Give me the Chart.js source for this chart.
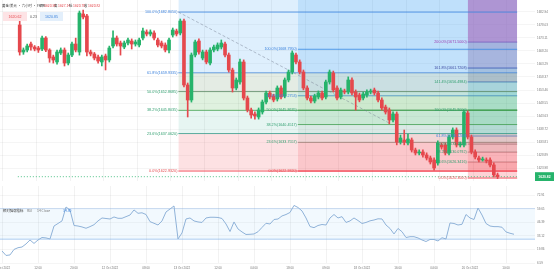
<!DOCTYPE html>
<html>
<head>
<meta charset="utf-8">
<script src="https://cdn.jsdelivr.net/npm/chart.js@4.4.1/dist/chart.umd.min.js"></script>
<style>
  html, body { margin: 0; padding: 0; background: #fff; }
  #wrap { position: relative; width: 554px; height: 275px; overflow: hidden; }
  #main { position: absolute; left: 0; top: 0; }
  #rsi { position: absolute; left: 0; top: 183px; }
</style>
</head>
<body>
<div id="wrap">
  <canvas id="main" width="554" height="181"></canvas>
  <canvas id="rsi" width="554" height="92"></canvas>
</div>
<script>
// ---- data ----
const opens = [1677.94,1667.77,1668.52,1670.78,1669.65,1669.28,1668.90,1673.04,1668.52,1665.89,
  1664.01,1667.40,1668.52,1663.63,1666.64,1670.78,1667.77,1682.08,1681.33,1667.77,
  1667.02,1665.89,1664.01,1666.27,1664.76,1670.03,1673.04,1671.16,1669.65,1671.16,
  1671.91,1670.78,1670.41,1673.04,1675.30,1674.55,1674.93,1672.29,1671.16,1670.41,
  1668.52,1674.17,1675.68,1674.93,1679.44,1655.35,1649.70,1666.64,1671.91,1665.51,
  1667.77,1663.63,1668.52,1668.90,1669.65,1670.78,1666.64,1660.99,1654.22,1656.48,
  1664.01,1650.45,1645.93,1644.43,1643.30,1645.18,1648.94,1652.34,1651.21,1650.08,
  1654.22,1651.21,1657.23,1660.24,1666.64,1664.01,1660.24,1654.22,1650.45,1649.32,
  1650.83,1652.34,1650.83,1656.48,1659.87,1654.22,1650.83,1653.09,1652.71,1657.23,
  1652.71,1651.58,1650.45,1651.58,1652.71,1653.46,1652.34,1649.70,1647.06,1645.93,
  1642.17,1644.43,1633.89,1634.64,1633.51,1634.64,1630.87,1629.75,1630.12,1628.99,
  1627.86,1627.11,1625.98,1632.76,1632.76,1629.75,1635.77,1638.40,1632.76,1632.76,
  1644.81,1635.77,1630.12,1627.86,1627.11,1627.11,1627.11,1625.23,1621.46];
const closes = [1667.77,1668.52,1670.03,1669.65,1668.90,1668.52,1673.04,1668.52,1665.51,1664.76,
  1667.77,1668.52,1663.63,1666.64,1670.78,1668.52,1682.46,1680.95,1667.77,1667.02,
  1665.51,1664.38,1665.89,1664.76,1669.28,1673.04,1670.78,1670.03,1671.16,1672.29,
  1670.78,1671.54,1672.29,1675.68,1674.55,1675.30,1673.04,1670.41,1670.03,1668.52,
  1672.29,1676.05,1674.55,1679.44,1655.35,1649.70,1666.64,1671.54,1667.77,1667.77,
  1664.01,1668.52,1669.65,1670.41,1671.16,1666.64,1660.99,1654.22,1657.23,1664.01,
  1650.45,1645.93,1644.05,1643.68,1645.93,1648.94,1652.34,1650.83,1649.70,1654.22,
  1650.83,1657.23,1660.24,1667.40,1664.01,1660.24,1654.22,1650.45,1649.32,1651.21,
  1652.34,1650.45,1656.48,1660.24,1653.46,1650.45,1653.46,1652.71,1657.23,1652.34,
  1650.83,1649.70,1651.96,1652.71,1653.09,1652.34,1649.70,1646.69,1645.18,1642.17,
  1644.43,1633.89,1635.39,1633.89,1635.02,1630.87,1629.75,1630.12,1628.99,1627.86,
  1626.36,1624.10,1633.51,1632.00,1629.75,1635.77,1638.40,1632.76,1633.13,1645.18,
  1635.77,1630.12,1628.24,1627.11,1627.49,1626.73,1625.23,1621.46,1620.82];
const highs = [1679.4,1669.3,1670.8,1671.5,1670.2,1669.9,1673.8,1673.6,1669.0,1666.6,
  1668.5,1669.3,1669.3,1667.4,1671.5,1673.0,1683.2,1683.6,1682.0,1668.5,
  1667.6,1666.6,1666.6,1667.0,1670.0,1675.7,1673.8,1671.9,1671.9,1673.0,
  1672.7,1672.3,1673.0,1676.8,1676.1,1676.1,1675.7,1673.0,1671.9,1671.2,
  1673.0,1676.8,1676.4,1680.2,1680.2,1656.1,1667.4,1672.3,1672.7,1668.5,
  1668.5,1669.3,1670.4,1671.2,1672.3,1671.5,1667.4,1661.7,1658.0,1665.1,
  1664.8,1651.2,1646.7,1645.2,1646.7,1649.7,1653.1,1653.1,1651.9,1655.0,
  1655.0,1658.0,1661.0,1668.2,1667.4,1664.8,1661.0,1655.0,1651.2,1651.9,
  1653.1,1653.1,1657.2,1661.0,1660.6,1655.0,1654.2,1653.8,1658.4,1658.0,
  1653.5,1652.3,1652.7,1653.5,1653.8,1654.2,1653.1,1650.5,1647.8,1646.7,
  1645.2,1645.2,1636.5,1638.4,1636.9,1635.4,1631.6,1630.9,1630.9,1629.8,
  1628.6,1627.9,1634.3,1633.5,1633.5,1636.5,1639.2,1639.2,1633.9,1646.0,
  1645.6,1636.5,1630.9,1628.6,1628.2,1627.9,1627.9,1626.0,1622.2];
const lows = [1666.6,1666.9,1667.8,1668.5,1668.2,1667.6,1668.3,1667.9,1663.9,1663.6,
  1663.2,1666.8,1662.5,1662.9,1666.0,1667.8,1666.6,1680.2,1666.3,1666.3,
  1664.8,1663.6,1662.5,1661.0,1664.0,1669.3,1670.0,1666.6,1669.0,1670.4,
  1668.9,1670.0,1669.7,1672.3,1673.8,1673.8,1672.3,1669.7,1669.3,1667.8,
  1667.4,1673.4,1673.8,1674.2,1654.6,1643.3,1648.9,1665.9,1667.0,1664.8,
  1663.3,1662.9,1667.8,1668.2,1668.9,1665.9,1660.2,1652.7,1653.5,1655.7,
  1649.7,1645.2,1642.9,1642.5,1642.5,1644.4,1648.2,1650.1,1649.0,1649.3,
  1650.1,1650.5,1656.5,1659.5,1663.3,1659.5,1653.5,1649.7,1648.6,1648.6,
  1650.1,1649.7,1650.1,1655.7,1652.7,1649.7,1650.1,1652.0,1652.0,1651.6,
  1645.9,1649.0,1649.7,1650.8,1652.0,1651.6,1649.0,1645.9,1644.4,1640.7,
  1641.4,1632.8,1633.1,1632.8,1632.8,1630.1,1629.0,1629.0,1628.2,1627.1,
  1625.6,1623.3,1625.2,1631.2,1629.0,1629.0,1635.0,1632.0,1632.0,1632.0,
  1635.0,1629.4,1627.5,1626.4,1626.7,1626.0,1624.5,1620.7,1620.1];
const rsiValues = [18.4,14.0,14.5,19.9,21.6,22.3,25.3,29.2,25.8,29.2,
  31.6,31.2,30.2,42.9,45.4,47.9,61.6,58.6,43.4,42.9,
  42.0,40.7,42.3,44.2,47.9,50.8,50.3,49.8,51.8,50.5,
  50.5,52.1,53.7,58.7,55.4,55.9,54.2,47.2,45.6,43.9,
  47.9,56.7,59.6,62.6,30.2,36.1,49.8,50.8,47.9,46.9,
  46.4,50.8,51.5,51.5,51.3,50.3,44.9,37.5,46.9,40.0,
  37.1,34.6,34.8,35.1,37.3,41.5,45.6,44.9,49.3,49.8,
  52.8,54.2,56.2,63.1,61.1,57.7,50.8,42.4,41.3,43.4,
  44.4,43.9,50.8,54.2,50.8,52.1,46.4,47.9,50.8,48.3,
  45.4,46.4,48.0,48.8,50.0,49.8,43.9,40.5,35.1,40.5,
  37.3,31.6,32.4,32.4,31.2,29.2,27.7,29.7,29.7,28.2,
  31.4,30.2,45.9,45.4,43.9,44.6,54.2,50.8,49.3,60.6,
  53.7,45.4,42.9,42.3,42.3,41.7,37.1,35.8,34.8];

const xTickIdx  = [0, 9, 18, 27, 36, 45, 54, 63, 72, 81, 90, 99, 108, 117, 126];
const xTickText = ['11 Oct 2022', '12:00', '20:00', '12 Oct 2022', '08:00', '13 Oct 2022', '12:00', '04:00',
                   '18:00', '09:00', '18 Oct 2022', '16:00', '04:00', '20 Oct 2022', '10:00'];
const priceTicks = [1682.94, 1678.03, 1673.11, 1668.20, 1663.29, 1658.37, 1653.46, 1648.55,
                    1643.63, 1638.72, 1633.81, 1628.89, 1623.98];
const rsiTicks = [6.59, 19.86, 33.12, 46.39, 59.65, 72.91];
const rsiBand = [30, 60];

// fibonacci retracements: anchor candle, ratios, prices
const fibAStart = 42.5;
const fibALevels = [0, 0.236, 0.382, 0.5, 0.618, 1];
const fibAPrices = [1622.9320, 1637.0620, 1645.8035, 1652.8685, 1659.9335, 1682.8050];
const fibBStart = 74.5;
const fibBLevels = [0, 0.236, 0.382, 0.5, 0.618, 1];
const fibBPrices = [1622.9320, 1633.7557, 1640.4517, 1645.8635, 1651.2753, 1668.7950];
const fibCStart = 120;
const fibCLevels = [0, 0.236, 0.382, 0.5, 0.618, 1, 1.414, 1.618, 2];
const fibCPrices = [1620.3000, 1626.3416, 1630.0792, 1633.1000, 1636.1208, 1645.9000, 1656.4984, 1661.7208, 1671.5000];
const trendX = [42.5, 99];
const trendY = [1682.805, 1641.0];

const lastPrice = 1620.82;

// ---- styles ----
const UP = '#26b36b', DOWN = '#e5484d';
const X_MIN = -0.5, X_MAX = 133.25;
const FONT = '"Liberation Sans", Arial, sans-serif';

const fibStyles = {
  A: {
    zones: ['rgba(242,54,69,0.15)', 'rgba(8,153,129,0.10)', 'rgba(76,175,80,0.18)',
            'rgba(120,160,120,0.20)', 'rgba(33,150,243,0.15)', 'rgba(33,150,243,0.15)'],
    lines: ['rgba(242,54,69,0.8)', 'rgba(8,153,129,0.7)', 'rgba(67,160,71,0.8)',
            'rgba(90,130,100,0.8)', 'rgba(60,130,220,0.8)', 'rgba(60,130,220,0.8)'],
    text: ['#e5484d', '#2f9e6e', '#2f9e6e', '#2f9e6e', '#3c82dc', '#3c82dc']
  },
  B: {
    zones: ['rgba(242,54,69,0.15)', 'rgba(120,130,120,0.10)', 'rgba(76,175,80,0.18)',
            'rgba(76,175,80,0.12)', 'rgba(33,150,243,0.15)', 'rgba(33,150,243,0.17)'],
    lines: ['rgba(242,54,69,0.8)', 'rgba(100,130,110,0.7)', 'rgba(67,160,71,0.8)',
            'rgba(67,140,90,0.8)', 'rgba(60,130,220,0.8)', 'rgba(60,130,220,0.8)'],
    text: ['#e5484d', '#2f9e6e', '#2f9e6e', '#2f9e6e', '#3c82dc', '#3c82dc']
  },
  C: {
    zones: ['rgba(242,54,69,0.22)', 'rgba(242,54,69,0.14)', 'rgba(150,110,110,0.15)',
            'rgba(120,120,120,0.15)', 'rgba(0,150,136,0.18)', 'rgba(0,172,193,0.20)',
            'rgba(110,100,130,0.30)', 'rgba(150,80,140,0.35)', 'rgba(215,80,160,0.60)'],
    lines: ['rgba(242,54,69,0.8)', 'rgba(150,120,120,0.7)', 'rgba(120,120,120,0.7)',
            'rgba(120,120,120,0.7)', 'rgba(60,130,220,0.8)', 'rgba(67,160,71,0.8)',
            'rgba(50,90,180,0.8)', 'rgba(60,60,160,0.8)', 'rgba(150,60,170,0.8)'],
    text: ['#e5484d', '#2f9e6e', '#2f9e6e', '#2f9e6e', '#3c82dc', '#2f9e6e',
           '#2f9e6e', '#3c4aa0', '#9c3cb0']
  }
};

const fibs = [
  {start: fibAStart, levels: fibALevels, prices: fibAPrices, style: fibStyles.A},
  {start: fibBStart, levels: fibBLevels, prices: fibBPrices, style: fibStyles.B},
  {start: fibCStart, levels: fibCLevels, prices: fibCPrices, style: fibStyles.C}
];

function fibDatasets(f) {
  return f.prices.map((p, k) => ({
    type: 'line',
    data: [{x: f.start, y: p}, {x: X_MAX, y: p}],
    borderColor: f.style.lines[k],
    borderWidth: 1,
    backgroundColor: f.style.zones[k],
    fill: k === f.prices.length - 1 ? 'end' : {value: f.prices[k + 1]},
    pointRadius: 0,
    order: 20
  }));
}

const candleColors = closes.map((c, i) => c >= opens[i] ? UP : DOWN);

const fibLabels = {
  id: 'fibLabels',
  afterDatasetsDraw(chart) {
    const {ctx, scales: {x, y}} = chart;
    ctx.save();
    ctx.font = '3.7px ' + FONT;
    ctx.textAlign = 'right';
    ctx.textBaseline = 'middle';
    fibs.forEach(f => {
      const px = x.getPixelForValue(f.start) - 1;
      f.levels.forEach((lv, k) => {
        ctx.fillStyle = f.style.text[k];
        ctx.fillText((lv * 100).toFixed(1) + '%(' + f.prices[k].toFixed(4) + ')', px, y.getPixelForValue(f.prices[k]));
      });
    });
    ctx.restore();
  },
  afterDraw(chart) {
    const {ctx, chartArea, scales: {y}} = chart;
    ctx.save();
    // last price tag
    const py = y.getPixelForValue(lastPrice);
    ctx.fillStyle = UP;
    ctx.fillRect(chartArea.right, py - 4.5, 19, 9);
    ctx.fillStyle = '#fff';
    ctx.font = 'bold 3.4px ' + FONT;
    ctx.textAlign = 'center';
    ctx.textBaseline = 'middle';
    ctx.fillText(lastPrice.toFixed(2), chartArea.right + 9.5, py);
    // header
    ctx.textAlign = 'left';
    ctx.font = '3.4px "Noto Sans CJK SC", sans-serif';
    ctx.fillStyle = '#333';
    ctx.fillText('黄金/美元 · 六小时 · FXCM', 2, 6);
    const pairs = [['开', '1620.59', 40], ['高', '1627.14', 54], ['低', '1620.70', 69], ['收', '1620.82', 84]];
    pairs.forEach(([k, v, px]) => {
      ctx.fillStyle = '#333';
      ctx.fillText(k, px, 6);
      ctx.fillStyle = DOWN;
      ctx.fillText(v, px + 4, 6);
    });
    ctx.fillStyle = '#fde3e5';
    ctx.fillRect(3, 12, 24, 9);
    ctx.fillStyle = '#e3effb';
    ctx.fillRect(40, 12, 23, 9);
    ctx.font = '3.6px ' + FONT;
    ctx.textAlign = 'center';
    ctx.fillStyle = DOWN;
    ctx.fillText('1620.62', 15, 16.5);
    ctx.fillStyle = '#555';
    ctx.fillText('0.23', 33.5, 16.5);
    ctx.fillStyle = '#3c82dc';
    ctx.fillText('1620.85', 51.5, 16.5);
    ctx.restore();
  }
};

const mainChart = new Chart('main', {
  type: 'bar',
  data: {
    datasets: [
      {
        type: 'bar',
        data: opens.map((o, i) => ({x: i, y: [o, closes[i]]})),
        backgroundColor: candleColors,
        barThickness: 3,
        minBarLength: 1,
        grouped: false,
        order: 1
      },
      {
        type: 'bar',
        data: lows.map((l, i) => ({x: i, y: [l, highs[i]]})),
        backgroundColor: candleColors,
        barThickness: 1,
        grouped: false,
        order: 2
      },
      {
        type: 'line',
        data: [{x: X_MIN, y: lastPrice}, {x: X_MAX, y: lastPrice}],
        borderColor: 'rgba(38,179,107,0.8)',
        borderWidth: 1,
        borderDash: [1, 2],
        pointRadius: 0,
        order: 3
      },
      {
        type: 'line',
        data: trendX.map((v, i) => ({x: v, y: trendY[i]})),
        borderColor: 'rgba(110,120,140,0.45)',
        borderWidth: 1,
        borderDash: [3, 2],
        pointRadius: 0,
        order: 4
      },
      ...fibs.flatMap(fibDatasets)
    ]
  },
  options: {
    responsive: false,
    animation: false,
    devicePixelRatio: 1,
    layout: {padding: 0},
    plugins: {legend: {display: false}, tooltip: {enabled: false}},
    scales: {
      x: {
        type: 'linear', min: X_MIN, max: X_MAX,
        afterBuildTicks: s => { s.ticks = xTickIdx.map(v => ({value: v})); },
        afterFit: s => { s.height = 0; s.paddingLeft = 0; s.paddingRight = 0; },
        ticks: {display: false},
        grid: {color: 'rgba(0,0,0,0.05)', drawTicks: false},
        border: {display: false}
      },
      y: {
        position: 'right', min: 1619.2, max: 1687.35,
        afterBuildTicks: s => { s.ticks = priceTicks.map(v => ({value: v})); },
        afterFit: s => { s.width = 19; s.paddingTop = 0; s.paddingBottom = 0; },
        ticks: {font: {size: 3, family: FONT}, color: '#777', padding: 2, callback: v => v.toFixed(2)},
        grid: {color: 'rgba(0,0,0,0.04)', drawTicks: false},
        border: {display: false}
      }
    }
  },
  plugins: [fibLabels]
});

const rsiHeader = {
  id: 'rsiHeader',
  afterDraw(chart) {
    const {ctx} = chart;
    ctx.save();
    ctx.textBaseline = 'middle';
    ctx.font = '3.4px "Noto Sans CJK SC", sans-serif';
    ctx.fillStyle = '#333';
    ctx.fillText('相对强弱指标', 3, 28);
    ctx.fillStyle = '#777';
    ctx.fillText('RSI', 27, 28);
    ctx.fillText('14 Close', 37, 28);
    ctx.fillStyle = '#3c82dc';
    ctx.fillText(rsiValues[rsiValues.length - 1].toFixed(2), 63, 28);
    ctx.restore();
  }
};

const rsiChart = new Chart('rsi', {
  type: 'line',
  data: {
    datasets: [
      {
        data: rsiValues.map((v, i) => ({x: i, y: v})),
        borderColor: '#8fb2d8',
        borderWidth: 1,
        pointRadius: 0,
        tension: 0,
        order: 1
      },
      {
        data: [{x: X_MIN, y: rsiBand[1]}, {x: X_MAX, y: rsiBand[1]}],
        borderColor: 'rgba(120,170,230,0.35)',
        borderWidth: 1,
        backgroundColor: 'rgba(33,150,243,0.06)',
        fill: {value: rsiBand[0]},
        pointRadius: 0,
        order: 5
      },
      {
        data: [{x: X_MIN, y: rsiBand[0]}, {x: X_MAX, y: rsiBand[0]}],
        borderColor: 'rgba(120,170,230,0.6)',
        borderWidth: 1,
        pointRadius: 0,
        order: 4
      }
    ]
  },
  options: {
    responsive: false,
    animation: false,
    devicePixelRatio: 1,
    layout: {padding: {top: 3}},
    plugins: {legend: {display: false}, tooltip: {enabled: false}},
    scales: {
      x: {
        type: 'linear', min: X_MIN, max: X_MAX,
        afterBuildTicks: s => { s.ticks = xTickIdx.map(v => ({value: v})); },
        afterFit: s => { s.height = 12; s.paddingLeft = 0; s.paddingRight = 0; },
        ticks: {
          font: {size: 3, family: FONT}, color: '#777', padding: 3, maxRotation: 0, autoSkip: false,
          callback: v => xTickText[xTickIdx.indexOf(v)]
        },
        grid: {color: 'rgba(0,0,0,0.05)', drawTicks: false},
        border: {display: false}
      },
      y: {
        position: 'right', min: 6.59, max: 82.2,
        afterBuildTicks: s => { s.ticks = rsiTicks.map(v => ({value: v})); },
        afterFit: s => { s.width = 19; s.paddingTop = 0; s.paddingBottom = 0; },
        ticks: {font: {size: 3, family: FONT}, color: '#777', padding: 2, callback: v => v.toFixed(2)},
        grid: {color: 'rgba(0,0,0,0.04)', drawTicks: false},
        border: {display: false}
      }
    }
  },
  plugins: [rsiHeader]
});
</script>
</body>
</html>
